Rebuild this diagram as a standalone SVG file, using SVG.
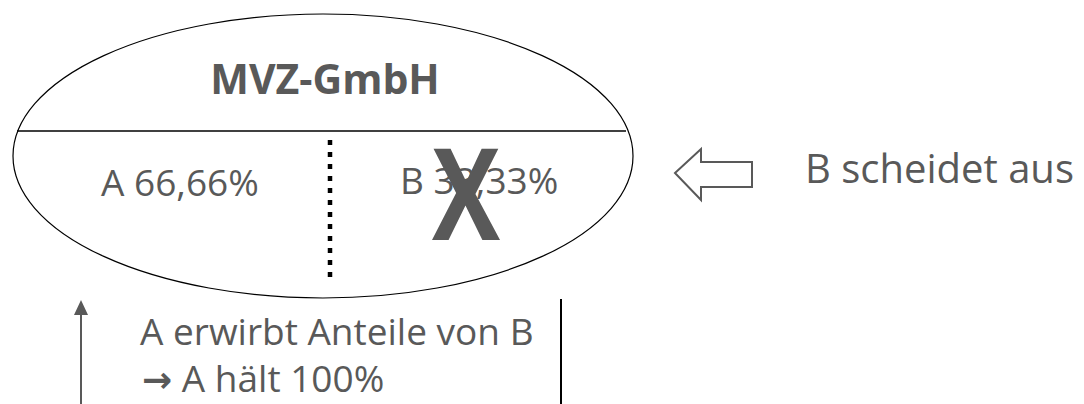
<svg xmlns="http://www.w3.org/2000/svg" width="1084" height="404" viewBox="0 0 1084 404">
<style>
.t{font-family:"Open Sans","Noto Sans","DejaVu Sans",sans-serif;fill:#595959}
.b{font-weight:700}
</style>
<rect width="1084" height="404" fill="#fff"/>
<g id="mvz">
<ellipse cx="323" cy="156" rx="310" ry="142" fill="#fff" stroke="#000" stroke-width="1.2"/>
<line x1="17" y1="131" x2="626" y2="131" stroke="#000" stroke-width="1.5"/>
<line x1="330" y1="140" x2="330" y2="277" stroke="#000" stroke-width="4.5" stroke-dasharray="5 7"/>
<text class="t b" x="325" y="94" font-size="41" text-anchor="middle">MVZ-GmbH</text>
<text class="t" x="101" y="196" font-size="37">A 66,66%</text>
<text class="t" x="400" y="194" font-size="37">B 33,33%</text>
<text class="t b" x="432" y="240" font-size="128" textLength="68" lengthAdjust="spacingAndGlyphs">X</text>
</g>
<g id="exit">
<path d="M675,173 L701,149 L701,162 L752,162 L752,187 L701,187 L701,200 Z" fill="#fff" stroke="#595959" stroke-width="2"/>
<text class="t" x="805" y="183" font-size="40">B scheidet aus</text>
</g>
<g id="acquire">
<text class="t" x="140" y="345" font-size="37">A erwirbt Anteile von B</text>
<text class="t" x="142" y="392" font-size="37"><tspan font-family="DejaVu Sans, sans-serif" font-weight="700" font-size="36">→</tspan> A hält 100%</text>
</g>
<g id="connectors">
<line x1="81" y1="404" x2="81" y2="312" stroke="#595959" stroke-width="2"/>
<path d="M74,315 L81,300 L88,315 Z" fill="#595959"/>
<line x1="561" y1="299" x2="561" y2="404" stroke="#000" stroke-width="2"/>
</g>
</svg>
